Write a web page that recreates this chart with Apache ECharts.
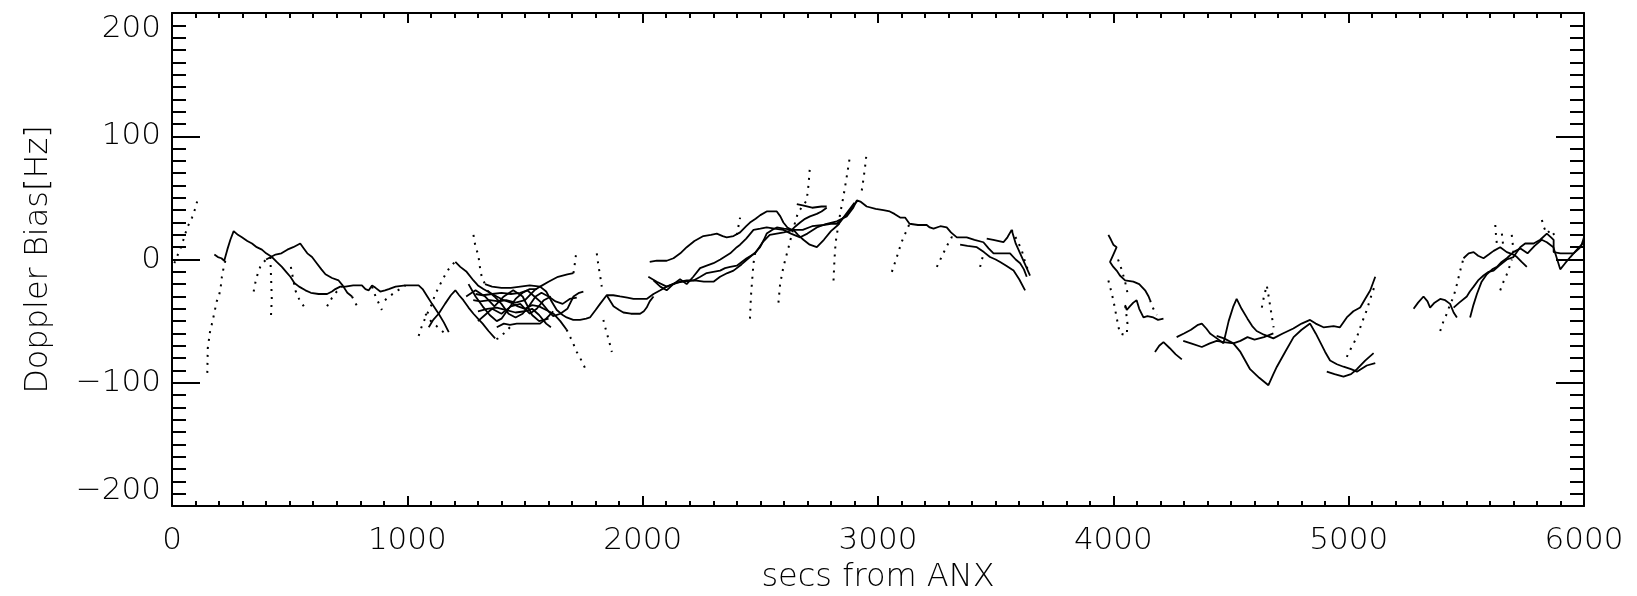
<!DOCTYPE html>
<html>
<head>
<meta charset="utf-8">
<script src="https://cdn.jsdelivr.net/npm/echarts@6/dist/echarts.min.js"></script>
<style>
html,body{margin:0;padding:0;background:#fff;}
#chart{width:1637px;height:596px;}
</style>
</head>
<body>
<div id="chart"></div>
<script>
// ---- axis ticks ----
const xTicks = [0, 1000, 2000, 3000, 4000, 5000, 6000];
const yTicks = [-200, -100, 0, 100, 200];

// ---- solid tracks: [secs from ANX, Doppler bias Hz] ----
const s01 = [[180,4],[195,2],[210,1],[222,-1],[235,8],[248,16],[262,23],[280,20],[297,18],[320,15],[340,13],[360,10],[382,8],[400,5],[425,2],[445,-2],[467,-6],[485,-10],[503,-14],[520,-19],[540,-22],[567,-25],[590,-27],[623,-28],[659,-28],[680,-26],[694,-24],[715,-22],[737,-22],[770,-21],[807,-21],[822,-24],[836,-25],[850,-21],[865,-23],[885,-26],[905,-25],[921,-24],[950,-22],[992,-21],[1020,-21],[1048,-21],[1065,-24],[1085,-30],[1105,-36],[1133,-44],[1155,-51],[1176,-59]];
const s02 = [[400,0],[420,2],[440,4],[465,5],[490,8],[515,10],[545,13],[560,9],[575,5],[595,2],[615,-3],[635,-8],[652,-12],[680,-15],[708,-17],[725,-21],[745,-27],[765,-30]];
const s03 = [[1091,-55],[1110,-49],[1133,-44],[1160,-36],[1185,-29],[1204,-25],[1220,-29],[1238,-33],[1260,-39],[1281,-44],[1300,-48],[1320,-52],[1345,-58],[1373,-64]];
const s04 = [[1204,-2],[1225,-6],[1252,-10],[1281,-17],[1300,-21],[1323,-24],[1351,-27],[1380,-30],[1410,-33],[1440,-35],[1470,-38],[1500,-40],[1530,-37],[1560,-38],[1590,-41],[1621,-44],[1650,-50],[1677,-57]];
const s05 = [[1330,-20],[1360,-22],[1400,-23],[1440,-23],[1480,-22],[1520,-21],[1564,-22],[1590,-26],[1610,-33],[1635,-41],[1660,-45],[1677,-47],[1705,-49],[1734,-49],[1760,-48],[1776,-47],[1800,-41],[1819,-36],[1847,-29],[1875,-29],[1904,-30],[1935,-31],[1961,-32],[1990,-32],[2017,-32],[2046,-28],[2075,-25],[2102,-22],[2131,-20],[2160,-18],[2187,-17],[2216,-17],[2245,-14],[2272,-11],[2300,-10],[2329,-9],[2350,-7],[2372,-6],[2400,-5],[2442,1],[2478,5],[2510,14],[2540,20],[2570,21],[2600,22],[2640,24],[2680,24],[2720,27],[2768,28],[2800,29],[2825,29],[2860,35],[2881,40],[2900,45],[2910,47]];
const s06 = [[1290,-28],[1320,-29],[1360,-28],[1400,-27],[1440,-28],[1480,-27],[1510,-25],[1540,-30],[1570,-35],[1600,-42],[1620,-46],[1650,-44],[1680,-40],[1706,-30],[1730,-27],[1748,-26]];
const s07 = [[1280,-33],[1310,-34],[1350,-33],[1390,-34],[1420,-33],[1460,-35],[1500,-33],[1540,-25],[1564,-22],[1600,-18],[1640,-14],[1680,-12],[1706,-11]];
const s08 = [[1300,-42],[1340,-40],[1380,-39],[1420,-41],[1460,-43],[1500,-42],[1530,-40],[1560,-45],[1590,-52],[1610,-55]];
const s09 = [[1380,-55],[1410,-52],[1436,-53],[1465,-52],[1500,-52],[1530,-52],[1564,-52],[1590,-48],[1620,-42]];
const s10 = [[1260,-20],[1290,-30],[1320,-38],[1350,-45],[1380,-50],[1400,-48],[1430,-40],[1460,-32],[1490,-27],[1520,-24],[1550,-24]];
const s11 = [[1340,-25],[1370,-30],[1400,-36],[1430,-44],[1460,-47],[1490,-44],[1520,-37],[1545,-30],[1570,-27],[1600,-30],[1630,-34],[1660,-36],[1690,-32],[1720,-31]];
const s12 = [[1847,-29],[1876,-38],[1900,-41],[1918,-43],[1950,-44],[1989,-44],[2005,-42],[2017,-39],[2030,-34],[2046,-30]];
const s13 = [[2030,-2],[2060,-1],[2102,-1],[2131,1],[2160,5],[2187,10],[2220,15],[2258,19],[2290,20],[2315,21],[2340,19],[2357,18],[2386,19],[2414,22],[2440,27],[2456,30],[2480,33],[2500,36],[2527,39],[2550,39],[2570,39],[2585,35],[2598,30],[2615,26],[2634,24],[2650,27],[2669,30],[2690,33],[2711,35],[2740,37],[2760,39],[2782,42]];
const s14 = [[2046,-17],[2075,-22],[2102,-25],[2130,-20],[2159,-16],[2187,-20],[2215,-14],[2244,-7],[2272,-5],[2301,-3],[2330,0],[2372,5],[2400,10],[2414,12],[2440,17],[2471,24],[2500,25],[2527,26],[2560,25],[2598,24],[2630,21],[2669,18],[2700,21],[2740,26],[2782,29],[2825,31],[2867,35],[2895,42],[2910,48],[2925,47],[2952,43],[2990,41],[3023,40],[3050,39],[3070,37],[3094,34],[3115,34],[3134,29],[3170,28],[3207,28],[3220,26],[3236,25],[3265,27],[3292,26],[3310,22],[3335,18],[3377,18],[3410,16],[3448,14],[3470,9],[3491,5],[3530,5],[3561,5],[3585,0],[3604,-3],[3620,-8],[3632,-14]];
const s15 = [[2655,45],[2680,44],[2720,42],[2760,43],[2782,43]];
const s16 = [[2024,-14],[2060,-18],[2102,-22],[2140,-19],[2173,-18],[2220,-17],[2260,-18],[2301,-18],[2329,-14],[2360,-11],[2386,-9],[2420,-4],[2456,2],[2480,6],[2499,10],[2515,16],[2527,21],[2550,24],[2570,26],[2600,25],[2641,24],[2660,20],[2683,16],[2710,12],[2740,10],[2770,16],[2800,23],[2830,28],[2853,34],[2880,41],[2900,46]];
const s17 = [[3349,12],[3380,11],[3420,10],[3450,6],[3476,2],[3500,0],[3519,-2],[3545,-5],[3576,-9],[3600,-16],[3625,-25]];
const s18 = [[3462,17],[3490,16],[3533,14],[3550,18],[3568,24],[3585,13],[3604,5],[3625,-4],[3646,-13]];
const s19 = [[3979,20],[3990,16],[4000,12],[4014,10],[4000,4],[3986,-2],[4000,-6],[4014,-9],[4028,-13],[4050,-17],[4085,-18],[4110,-20],[4135,-25],[4150,-30],[4156,-33]];
const s20 = [[4050,-37],[4057,-41],[4070,-38],[4085,-35],[4099,-33],[4110,-40],[4128,-47],[4145,-46],[4170,-47],[4190,-49],[4213,-48]];
const s21 = [[4177,-75],[4195,-70],[4213,-67],[4240,-72],[4265,-77],[4291,-81]];
const s22 = [[4269,-63],[4300,-60],[4330,-57],[4360,-53],[4376,-52],[4395,-56],[4411,-60],[4440,-64],[4468,-68],[4490,-50],[4510,-38],[4524,-32],[4545,-40],[4570,-48],[4590,-54],[4609,-58],[4640,-61],[4680,-64],[4720,-60],[4765,-56],[4800,-52],[4836,-49],[4860,-52],[4893,-55],[4936,-54],[4963,-55],[4992,-47],[5020,-42],[5049,-39],[5070,-32],[5092,-25],[5113,-14]];
const s23 = [[4297,-66],[4330,-68],[4376,-71],[4410,-68],[4439,-66],[4470,-67],[4510,-68],[4540,-75],[4581,-89],[4620,-96],[4659,-102],[4680,-93],[4695,-87],[4730,-75],[4766,-63],[4800,-57],[4836,-52],[4860,-60],[4879,-67],[4900,-75],[4921,-82],[4950,-85],[4978,-87],[5010,-89],[5035,-91],[5060,-88],[5077,-86],[5113,-84]];
const s24 = [[4907,-91],[4940,-93],[4978,-95],[5010,-93],[5035,-89],[5070,-82],[5106,-76]];
const s25 = [[4439,-62],[4470,-64],[4510,-68],[4540,-66],[4570,-63],[4600,-65],[4640,-63],[4680,-60]];
const s26 = [[5276,-40],[5295,-35],[5318,-30],[5335,-34],[5346,-39],[5365,-35],[5389,-32],[5410,-33],[5431,-36],[5446,-43],[5460,-47]];
const s27 = [[5488,1],[5510,5],[5531,6],[5550,3],[5573,1],[5595,4],[5616,7],[5644,10],[5672,6],[5700,4],[5715,2],[5735,-2],[5757,-6]];
const s28 = [[5446,-39],[5470,-35],[5502,-30],[5515,-26],[5531,-22],[5550,-17],[5573,-13],[5595,-10],[5616,-9],[5640,-5],[5672,0],[5700,2],[5729,10],[5750,13],[5786,13],[5814,16],[5842,21],[5860,18],[5871,16],[5871,6],[5900,5],[5930,5],[5956,5],[5980,9],[6000,15]];
const s29 = [[5516,-47],[5530,-37],[5545,-28],[5565,-18],[5587,-12],[5610,-8],[5630,-6],[5650,-2],[5672,1],[5700,6],[5730,9],[5760,5],[5790,11],[5820,16],[5842,14],[5870,10],[5899,-8],[5920,-3],[5942,2],[5970,8],[5990,12],[6000,18]];
const s30 = [[1250,-30],[1290,-25],[1330,-30],[1370,-38],[1410,-30],[1450,-25],[1490,-30],[1530,-45],[1560,-50],[1600,-48]];
const s31 = [[1300,-50],[1330,-45],[1360,-40],[1400,-44],[1440,-38],[1480,-36],[1520,-44],[1550,-40],[1580,-33],[1610,-30]];

// ---- dotted tracks ----
const d01 = [[10,-3],[20,2],[35,8],[55,20],[65,26],[85,34],[100,42],[112,51]];
const d02 = [[150,-92],[152,-72],[162,-58],[170,-52],[178,-45],[190,-34],[200,-29],[206,-24],[212,-14],[220,-6],[228,0]];
const d03 = [[1048,-62],[1060,-55],[1077,-47],[1100,-38],[1119,-28],[1140,-20],[1162,-12],[1185,-5],[1204,-2]];
const d04 = [[765,-30],[778,-35],[790,-39]];
const d05 = [[347,-26],[355,-18],[365,-11],[375,-6],[390,-2],[400,0]];
const d06 = [[418,2],[420,-10],[422,-20],[424,-32],[420,-48]];
const d07 = [[505,-6],[515,-16],[524,-25],[540,-32],[560,-38]];
const d08 = [[659,-38],[680,-31],[700,-26],[722,-22]];
const d09 = [[850,-22],[865,-30],[880,-36],[892,-41]];
const d10 = [[905,-33],[930,-29],[960,-25],[992,-21]];
const d11 = [[1077,-44],[1100,-50],[1130,-55],[1160,-60]];
const d12 = [[1677,-57],[1700,-66],[1720,-75],[1740,-82],[1755,-88]];
const d13 = [[1281,20],[1288,12],[1302,3],[1309,-7],[1316,-14],[1330,-20]];
const d14 = [[1706,-11],[1712,-3],[1716,3],[1720,8]];
const d15 = [[1436,-55],[1410,-60],[1385,-64],[1366,-66]];
const d16 = [[1805,5],[1812,-5],[1820,-14],[1826,-22]];
const d17 = [[1833,-49],[1845,-58],[1857,-66],[1869,-75]];
const d18 = [[2456,-48],[2460,-30],[2466,-15],[2471,-3],[2480,8]];
const d19 = [[2577,-35],[2584,-20],[2598,-6],[2620,10],[2640,25],[2660,38],[2697,48],[2705,61],[2711,76]];
const d20 = [[2811,-17],[2815,0],[2820,14],[2840,38],[2853,51],[2867,67],[2881,84]];
const d21 = [[2931,56],[2938,65],[2945,75],[2952,87]];
const d22 = [[2400,20],[2408,28],[2414,34]];
const d23 = [[3059,-10],[3080,2],[3100,14],[3118,22],[3134,29]];
const d24 = [[3250,-6],[3270,2],[3290,10],[3313,18],[3335,18]];
const d25 = [[3434,-6],[3440,-1],[3448,4]];
const d26 = [[3568,24],[3590,16],[3610,8],[3625,-2],[3640,-10]];
const d27 = [[4156,-33],[4170,-40],[4185,-45]];
const d28 = [[3979,-17],[3990,-25],[4000,-33],[4007,-40],[4014,-47],[4021,-54],[4028,-60],[4045,-61],[4057,-61],[4060,-52],[4055,-44],[4050,-37]];
const d29 = [[4020,0],[4035,-8],[4050,-18],[4060,-27]];
const d30 = [[4631,-39],[4640,-30],[4652,-21],[4660,-30],[4670,-42],[4681,-55]];
const d31 = [[4992,-79],[5010,-72],[5035,-63],[5055,-52],[5077,-41],[5095,-30],[5113,-20]];
const d32 = [[5389,-58],[5403,-50],[5417,-44],[5430,-37],[5446,-30],[5460,-20],[5474,-9],[5488,1]];
const d33 = [[5623,28],[5626,20],[5630,12]];
const d34 = [[5651,21],[5655,14],[5658,8]];
const d35 = [[5693,20],[5697,13],[5700,6]];
const d36 = [[5821,32],[5830,26],[5842,21],[5860,24],[5880,18]];
const d37 = [[5644,-25],[5658,-18],[5672,-12],[5685,-5],[5693,0]];

const solidTracks = [s01,s02,s03,s04,s05,s06,s07,s08,s09,s10,s11,s12,s13,s14,s15,s16,s17,s18,s19,s20,s21,s22,s23,s24,s25,s26,s27,s28,s29,s30,s31];
const dottedTracks = [d01,d02,d03,d04,d05,d06,d07,d08,d09,d10,d11,d12,d13,d14,d15,d16,d17,d18,d19,d20,d21,d22,d23,d24,d25,d26,d27,d28,d29,d30,d31,d32,d33,d34,d35,d36,d37];

const FONT = '"DejaVu Sans", sans-serif';
const labelStyle = {color:'#000', fontFamily:FONT, fontSize:31, fontWeight:200};
const titleStyle = {color:'#000', fontFamily:FONT, fontSize:32, fontWeight:200};

function xAx(pos, showLabel){
  return {
    type:'value', position:pos, min:xTicks[0], max:xTicks[xTicks.length-1], interval:1000,
    axisLine:{show:true, onZero:false, lineStyle:{color:'#000', width:2}},
    axisTick:{show:true, inside:true, length:10, lineStyle:{color:'#000', width:2}},
    minorTick:{show:true, splitNumber:10, length:5, lineStyle:{color:'#000', width:2}},
    splitLine:{show:false}, minorSplitLine:{show:false},
    axisLabel:Object.assign({show:showLabel, margin:19, formatter:v => String(v)}, labelStyle),
    name: showLabel ? 'secs from ANX' : '',
    nameLocation:'middle', nameGap:56,
    nameTextStyle:titleStyle
  };
}
function yAx(pos, showLabel){
  return {
    type:'value', position:pos, min:yTicks[0], max:yTicks[yTicks.length-1], interval:100,
    axisLine:{show:true, onZero:false, lineStyle:{color:'#000', width:2}},
    axisTick:{show:true, inside:true, length:28, lineStyle:{color:'#000', width:2}},
    minorTick:{show:true, splitNumber:10, length:14, lineStyle:{color:'#000', width:2}},
    splitLine:{show:false}, minorSplitLine:{show:false},
    axisLabel:Object.assign({show:showLabel, margin:11,
      verticalAlignMaxLabel:'top', verticalAlignMinLabel:'bottom',
      formatter:v => String(v).replace('-', '\u2212')}, labelStyle),
    name: showLabel ? 'Doppler Bias[Hz]' : '',
    nameLocation:'middle', nameGap:117,
    nameTextStyle:titleStyle
  };
}

const series = [];
solidTracks.forEach(t => series.push({
  type:'line', data:t, symbol:'none', silent:true, animation:false,
  lineStyle:{color:'#000', width:1.8}
}));
dottedTracks.forEach(t => series.push({
  type:'line', data:t, symbol:'none', silent:true, animation:false,
  lineStyle:{color:'#000', width:2, type:[2,6]}
}));

const chart = echarts.init(document.getElementById('chart'), null, {renderer:'canvas'});
chart.setOption({
  backgroundColor:'#fff',
  animation:false,
  grid:{left:172, right:53, top:13, bottom:90, containLabel:false, outerBoundsMode:'none'},
  xAxis:[xAx('bottom', true), xAx('top', false)],
  yAxis:[yAx('left', true), yAx('right', false)],
  series:series
});
</script>
</body>
</html>
